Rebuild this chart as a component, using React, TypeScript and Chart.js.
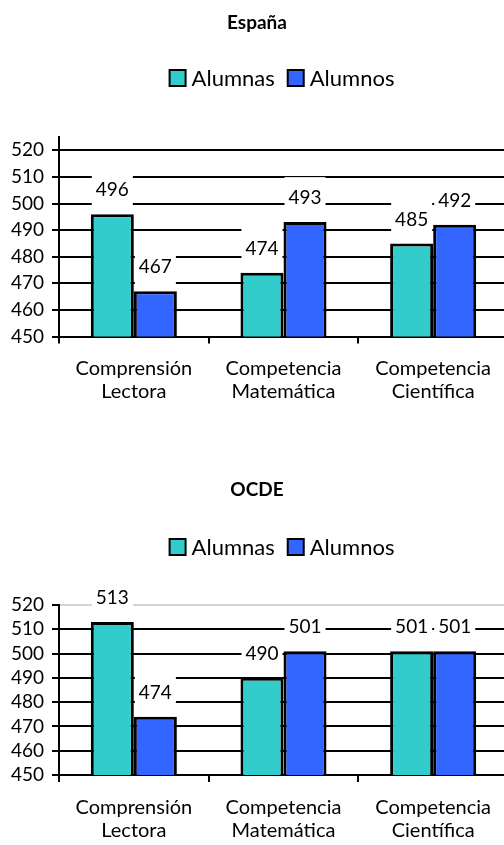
import React, { useEffect, useRef } from 'react';
import { Chart, registerables } from 'chart.js';

Chart.register(...registerables);

const categories = [
  ['Comprensión', 'Lectora'],
  ['Competencia', 'Matemática'],
  ['Competencia', 'Científica'],
];
const seriesNames = ['Alumnas', 'Alumnos'];
const seriesColors = ['#33CCCC', '#3366FF'];
const espanaAlumnas = [496, 474, 485];
const espanaAlumnos = [467, 493, 492];
const ocdeAlumnas = [513, 490, 501];
const ocdeAlumnos = [474, 501, 501];
const yTickValues = [450, 460, 470, 480, 490, 500, 510, 520];

const FONT = 'Lato, "Open Sans", sans-serif';

type PanelProps = {
  title: string;
  a: number[];
  b: number[];
  top: number;
  height: number;
  yMax: number;
  padTop: number;
  axisH: number;
  titleY: number;
  legendY: number;
  gray520: boolean;
};

function Panel(p: PanelProps) {
  const ref = useRef<HTMLCanvasElement | null>(null);
  useEffect(() => {
    const canvas = ref.current;
    if (!canvas) return;

    const headerPlugin = {
      id: 'header',
      afterDraw(chart: any) {
        const ctx = chart.ctx;
        ctx.save();
        ctx.fillStyle = '#000';
        ctx.textBaseline = 'middle';
        ctx.textAlign = 'center';
        ctx.font = `bold 19px ${FONT}`;
        ctx.fillText(p.title, 257, p.titleY);
        // legend
        ctx.font = `22px ${FONT}`;
        const box = 16, gapText = 6, gapItem = 13;
        const widths = seriesNames.map((n) => box + gapText + ctx.measureText(n).width);
        const total = widths.reduce((s, w) => s + w, 0) + gapItem * (widths.length - 1);
        let x = 282 - total / 2;
        ctx.textAlign = 'left';
        seriesNames.forEach((n, i) => {
          ctx.fillStyle = seriesColors[i];
          ctx.fillRect(x, p.legendY - box / 2, box, box);
          ctx.strokeStyle = '#000';
          ctx.lineWidth = 2;
          ctx.strokeRect(x, p.legendY - box / 2, box, box);
          ctx.fillStyle = '#000';
          ctx.fillText(n, x + box + gapText, p.legendY + 1);
          x += widths[i] + gapItem;
        });
        ctx.restore();
      },
    };

    const labelPlugin = {
      id: 'valueLabels',
      afterDatasetsDraw(chart: any) {
        const ctx = chart.ctx;
        ctx.save();
        ctx.font = `19px ${FONT}`;
        ctx.textAlign = 'center';
        ctx.textBaseline = 'middle';
        chart.data.datasets.forEach((ds: any, di: number) => {
          const meta = chart.getDatasetMeta(di);
          meta.data.forEach((bar: any, i: number) => {
            const text = String(ds.data[i]);
            const w = ctx.measureText(text).width + 8;
            const h = 40;
            const cy = bar.y - 25;
            ctx.fillStyle = '#fff';
            ctx.fillRect(bar.x - w / 2, cy - h / 2, w, h);
            ctx.fillStyle = '#000';
            ctx.fillText(text, bar.x, cy + 1);
          });
        });
        ctx.restore();
      },
    };

    const chart = new Chart(canvas, {
      type: 'bar',
      data: {
        labels: categories as any,
        datasets: [
          {
            label: seriesNames[0],
            data: p.a,
            backgroundColor: seriesColors[0],
            borderColor: '#000',
            borderWidth: 3,
            borderSkipped: false,
            categoryPercentage: 0.575,
            barPercentage: 1,
          },
          {
            label: seriesNames[1],
            data: p.b,
            backgroundColor: seriesColors[1],
            borderColor: '#000',
            borderWidth: 3,
            borderSkipped: false,
            categoryPercentage: 0.575,
            barPercentage: 1,
          },
        ],
      },
      options: {
        animation: false,
        responsive: false,
        devicePixelRatio: 1,
        layout: { padding: { top: p.padTop, left: 0, right: 0, bottom: 0 } },
        plugins: {
          legend: { display: false },
          title: { display: false },
          tooltip: { enabled: false },
        },
        scales: {
          x: {
            offset: true,
            grid: {
              display: true,
              drawOnChartArea: false,
              drawTicks: true,
              tickLength: 7,
              color: '#000',
              lineWidth: 2,
              offset: true,
            },
            border: { color: '#000', width: 2 },
            ticks: {
              color: '#000',
              font: { family: FONT, size: 20, lineHeight: 1.15 },
              padding: 14,
              maxRotation: 0,
              autoSkip: false,
            },
            afterFit: (s: any) => {
              s.height = p.axisH;
            },
          },
          y: {
            min: 450,
            max: p.yMax,
            afterBuildTicks: (axis: any) => {
              axis.ticks = yTickValues.map((v) => ({ value: v }));
            },
            ticks: {
              color: '#000',
              font: { family: FONT, size: 19 },
              padding: 8,
              autoSkip: false,
            },
            grid: {
              color: (c: any) =>
                p.gray520 && c.tick && c.tick.value === 520 ? '#d4d4d4' : '#000',
              tickColor: '#000',
              lineWidth: 2,
              tickLength: 7,
            },
            border: { color: '#000', width: 2 },
            afterFit: (s: any) => {
              s.width = 59;
            },
          },
        },
      },
      plugins: [labelPlugin, headerPlugin],
    } as any);
    return () => chart.destroy();
  }, []);

  return (
    <div style={{ position: 'absolute', left: 0, top: p.top, width: 508, height: p.height }}>
      <canvas ref={ref} width={508} height={p.height} style={{ display: 'block' }} />
    </div>
  );
}

export default function App() {
  return (
    <div
      style={{
        position: 'absolute',
        left: 0,
        top: 0,
        width: 504,
        height: 845,
        overflow: 'hidden',
        background: '#fff',
      }}
    >
      <Panel
        title="España"
        a={espanaAlumnas}
        b={espanaAlumnos}
        top={0}
        height={440}
        yMax={525}
        padTop={137}
        axisH={103.5}
        titleY={23}
        legendY={78}
        gray520={false}
      />
      <Panel
        title="OCDE"
        a={ocdeAlumnas}
        b={ocdeAlumnos}
        top={440}
        height={405}
        yMax={520}
        padTop={165}
        axisH={70}
        titleY={50}
        legendY={107}
        gray520={true}
      />
    </div>
  );
}
